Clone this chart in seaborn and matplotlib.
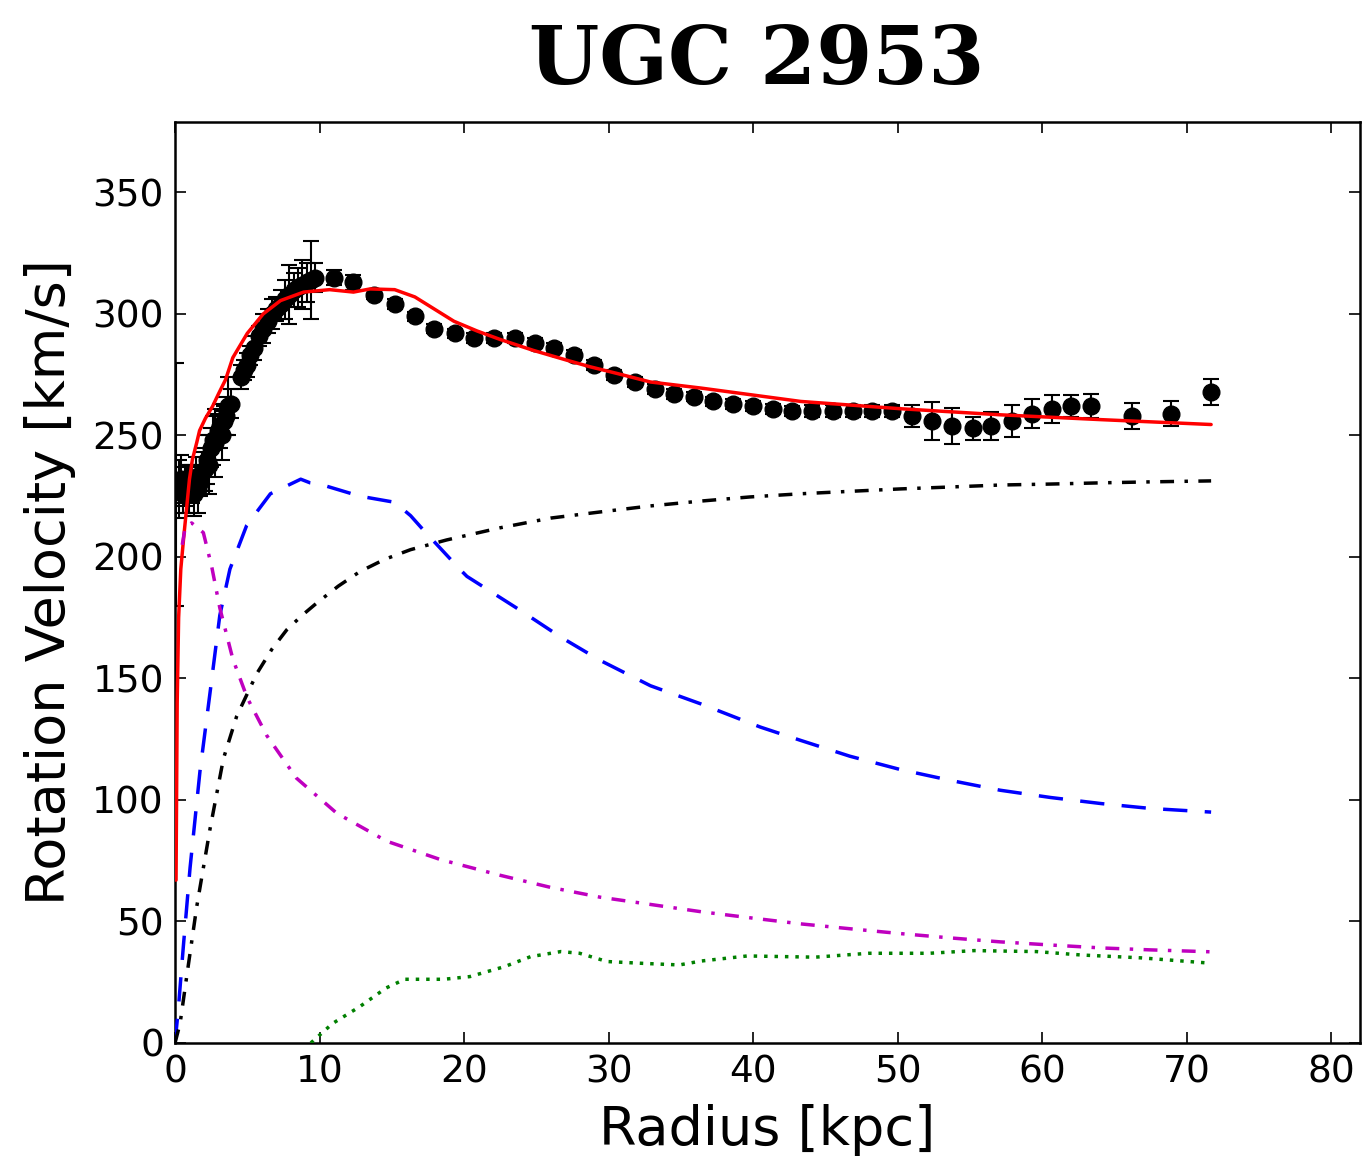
import numpy as np
import pandas as pd
import matplotlib
matplotlib.use("Agg")
import matplotlib.pyplot as plt
import seaborn as sns

# observed rotation curve
r_obs = [0.1, 0.25, 0.4, 0.55, 0.7, 0.85, 1.0, 1.15, 1.3, 1.45, 1.6, 1.75, 1.9, 2.05,
         2.2, 2.35, 2.5, 2.65, 2.8, 2.95, 3.1, 3.25, 3.4, 3.55, 3.7, 3.85,
         4.6, 4.8, 5.0, 5.2, 5.5, 5.8, 6.1, 6.4, 6.7, 7.0, 7.3, 7.6, 7.9, 8.2, 8.5,
         8.8, 9.1, 9.4, 9.7,
         11.0, 12.35, 13.8, 15.2, 16.6, 17.95, 19.35, 20.7, 22.1, 23.5, 24.9, 26.25,
         27.6, 29.0, 30.4, 31.8, 33.2, 34.5, 35.9, 37.2, 38.6, 40.0, 41.4, 42.7,
         44.1, 45.5, 46.9, 48.2, 49.6, 51.0, 52.4, 53.8, 55.2, 56.5, 57.9, 59.3,
         60.7, 62.0, 63.4, 66.2, 68.9, 71.7]
v_obs = [230, 228, 232, 226, 229, 231, 228, 230, 226, 233, 228, 231, 235, 236,
         240, 238, 245, 248, 247, 252, 254, 250, 256, 258, 262, 263,
         274, 277, 279, 283, 286, 291, 294, 297, 300, 302, 304, 306, 308, 310, 311,
         312, 313, 314, 315,
         315, 313, 308, 304, 299, 294, 292, 290, 290, 290, 288, 286,
         283, 279, 275, 272, 269, 267, 266, 264, 263, 262, 261, 260,
         260, 260, 260, 260, 260, 258, 256, 254, 253, 254, 256, 259,
         261, 262, 262, 258, 259, 268]
e_obs = [50, 12, 10, 8, 8, 7, 10, 8, 9, 8, 10, 6, 8, 9,
         10, 12, 8, 10, 14, 7, 9, 10, 6, 8, 12, 6,
         5, 4, 5, 4, 5, 4, 6, 5, 6, 5, 6, 8, 12, 7, 8,
         10, 8, 16, 6,
         3, 3, 2, 2, 2, 2, 2, 2, 2, 2, 2, 2,
         2, 2, 2, 2, 2, 2, 2, 2, 2, 2, 2, 2,
         2.5, 2.5, 2.5, 2.5, 2.5, 4.5, 7.7, 7.4, 4.7, 5.7, 6.7, 6.0,
         5.8, 4.5, 4.9, 5.5, 5.0, 5.3]

# total model
r_tot = [0.07, 0.15, 0.25, 0.4, 0.6, 0.8, 1.0, 1.2, 1.5, 1.7, 2.1, 2.6, 3.0, 3.5,
         4.0, 5.0, 6.1, 7.3, 8.9, 10.7, 12.35, 13.5, 15.2, 16.6, 19.3, 20.9, 22.5,
         24.8, 27.1, 28.7, 30.6, 32.9, 36.4, 43.3, 50.2, 57.1, 64.1, 71.7]
v_tot = [67, 140, 175, 195, 208, 220, 232, 240, 247, 252, 257, 262, 267, 273,
         282, 292, 300, 305.5, 309, 310, 309, 310.3, 310, 307, 297, 293, 289.5,
         285, 281, 278.3, 275.5, 272, 269.5, 264, 261, 258.5, 256.5, 254.5]

# stellar disk
r_disk = [0.0, 0.23, 0.58, 1.04, 1.73, 2.42, 3.1, 3.8, 4.96, 6.6, 8.7, 9.35, 10.0,
          12.8, 15.2, 16.3, 17.2, 19.7, 20.2, 23.9, 26.7, 29.4, 32.9, 36.4, 40.5,
          43.3, 46.7, 50.2, 53.7, 57.1, 60.6, 64.1, 67.5, 71.7]
v_disk = [0, 14, 40, 72, 112, 144, 176, 195, 213, 226, 232, 230.5, 230,
          225, 222.5, 217, 211, 195, 192, 178, 167, 157.5, 147, 139.5, 130,
          124.5, 118, 112.5, 108, 104, 101, 98.5, 96.5, 95]

# bulge
r_bulge = [0.5, 0.7, 1.15, 1.96, 2.54, 3.1, 4.0, 5.0, 6.35, 8.4, 11.2, 14.66, 18.35,
           22.5, 26.0, 29.4, 32.9, 36.4, 39.8, 43.3, 46.7, 50.2, 53.7, 57.1, 60.6,
           64.1, 67.5, 71.7]
v_bulge = [205, 212, 214, 210, 196, 179, 158, 142, 126.5, 109, 94.5, 83, 75.5,
           69, 64, 60, 57, 54, 51.5, 49, 47, 45, 43.2, 41.6, 40.3,
           39.1, 38.3, 37.5]

# dark halo
r_halo = [0.0, 0.35, 0.8, 1.5, 2.42, 3.35, 4.27, 5.66, 6.7, 7.73, 8.8, 9.8, 11.3,
          12.8, 14.5, 16.3, 18.8, 22.5, 26.0, 29.4, 32.9, 36.4, 39.8, 43.3, 46.7,
          50.2, 53.7, 57.1, 60.6, 64.1, 67.5, 71.7]
v_halo = [0, 8, 27, 56, 88, 117, 134.5, 152, 162, 170, 176, 181, 188,
          194, 199, 203, 207, 212, 216, 218.5, 221, 223, 224.7, 226, 227,
          228, 228.8, 229.6, 230, 230.5, 230.9, 231.3]

# gas
r_gas = [9.4, 10.9, 12.8, 14.6, 15.9, 18.6, 20.4, 22.8, 24.6, 26.7, 28.0, 29.9,
         32.2, 34.9, 36.4, 39.6, 44.3, 48.0, 52.2, 55.3, 59.6, 62.7, 66.9, 71.7]
v_gas = [0, 8, 15, 22.6, 26.2, 26.2, 27.3, 31.4, 35.5, 37.6, 36.9, 33.5,
         32.8, 32.1, 33.7, 35.8, 35.3, 36.9, 36.9, 38, 37.6, 36.2, 35, 32.8]

sns.set_style("ticks")
plt.rcParams["font.family"] = ["DejaVu Sans"]
plt.rcParams["text.color"] = "k"
plt.rcParams["axes.labelcolor"] = "k"
plt.rcParams["xtick.color"] = "k"
plt.rcParams["ytick.color"] = "k"
plt.rcParams["axes.edgecolor"] = "k"

fig = plt.figure(figsize=(13.62, 11.64), dpi=100)
ax = fig.add_axes([0.1285, 0.104, 0.87, 0.7912])

ax.errorbar(r_obs, v_obs, yerr=e_obs, fmt="o", color="k", markersize=12,
            elinewidth=1.5, capsize=6, capthick=1.5, zorder=2)

models = [
    (r_tot, v_tot, "r", "-"),
    (r_disk, v_disk, "b", (0, (7, 5))),
    (r_bulge, v_bulge, "m", (0, (4, 3, 1, 3))),
    (r_halo, v_halo, "k", (0, (4, 3, 1, 3))),
    (r_gas, v_gas, "g", (0, (1, 2))),
]
for rr, vv, col, ls in models:
    df = pd.DataFrame({"r": rr, "v": vv})
    sns.lineplot(data=df, x="r", y="v", color=col, linestyle=ls, linewidth=2.5,
                 sort=False, estimator=None, ax=ax, zorder=3)

ax.set_xlim(0, 82)
ax.set_ylim(0, 379)
ax.set_xticks(np.arange(0, 81, 10))
ax.set_yticks(np.arange(0, 351, 50))
ax.tick_params(direction="in", length=8, width=1.2, labelsize=27,
               top=True, right=True, pad=8)
for sp in ax.spines.values():
    sp.set_linewidth(1.8)
    sp.set_visible(True)

ax.set_xlabel("Radius [kpc]", fontsize=39, labelpad=10)
ax.set_ylabel("Rotation Velocity [km/s]", fontsize=39, labelpad=12)
fig.text(0.5555, 0.947, "UGC 2953", fontsize=58, family="DejaVu Serif",
         weight="bold", ha="center", va="center")

fig.savefig("out.png", dpi=100)
